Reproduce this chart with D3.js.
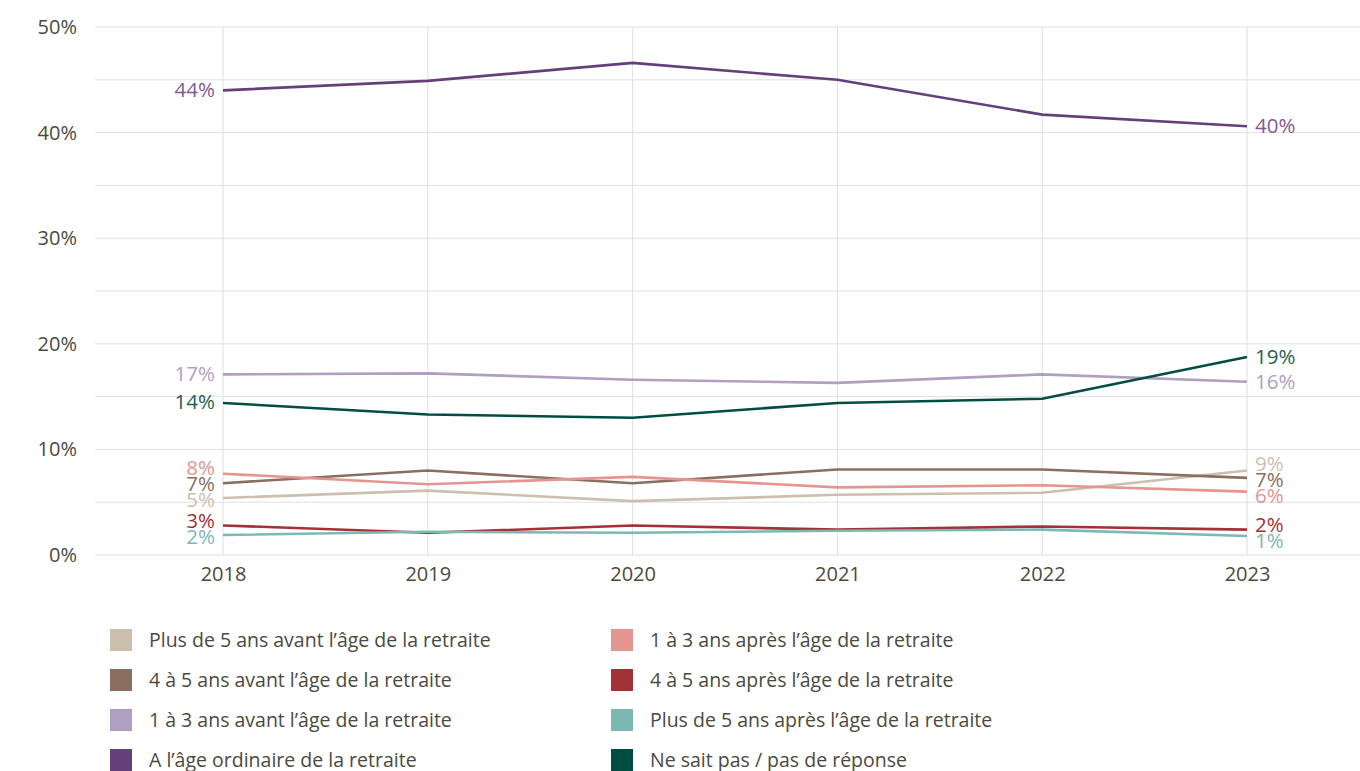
<!DOCTYPE html>
<html>
<head>
<meta charset="utf-8">
<script src="https://cdn.jsdelivr.net/npm/d3@7"></script>
<style>
  body { margin: 0; background: #fff; }
  text { font-family: "Open Sans", "Noto Sans", sans-serif; }
</style>
</head>
<body>
<script>
'use strict';

// chart data
const years = [2018, 2019, 2020, 2021, 2022, 2023];
const seriesNames = [
  "Plus de 5 ans avant l’âge de la retraite",
  "4 à 5 ans avant l’âge de la retraite",
  "1 à 3 ans avant l’âge de la retraite",
  "A l’âge ordinaire de la retraite",
  "1 à 3 ans après l’âge de la retraite",
  "4 à 5 ans après l’âge de la retraite",
  "Plus de 5 ans après l’âge de la retraite",
  "Ne sait pas / pas de réponse"
];
const seriesColors = ["#cdbfae", "#8a6f60", "#b09fc0", "#643f7a", "#e5958f", "#a33237", "#7cb9b4", "#004d44"];
const plus5Avant = [5.4, 6.1, 5.1, 5.7, 5.9, 8.0];
const avant45 = [6.8, 8.0, 6.8, 8.1, 8.1, 7.3];
const avant13 = [17.1, 17.2, 16.6, 16.3, 17.1, 16.4];
const ageOrdinaire = [44.0, 44.9, 46.6, 45.0, 41.7, 40.6];
const apres13 = [7.7, 6.7, 7.4, 6.4, 6.6, 6.0];
const apres45 = [2.8, 2.1, 2.8, 2.4, 2.7, 2.4];
const plus5Apres = [1.9, 2.2, 2.1, 2.3, 2.4, 1.8];
const neSaitPas = [14.4, 13.3, 13.0, 14.4, 14.8, 18.75];
const seriesValues = [plus5Avant, avant45, avant13, ageOrdinaire, apres13, apres45, plus5Apres, neSaitPas];
// end labels as printed in the chart
const firstLabels = ["5%", "7%", "17%", "44%", "8%", "3%", "2%", "14%"];
const lastLabels = ["9%", "7%", "16%", "40%", "6%", "2%", "1%", "19%"];
const yTicks = [0, 10, 20, 30, 40, 50];
const yGrid = [0, 5, 10, 15, 20, 25, 30, 35, 40, 45, 50];

const width = 1360, height = 771;
const textColor = "#4a4a40";

const svg = d3.select("body").append("svg")
  .attr("width", width)
  .attr("height", height);

const x = d3.scalePoint().domain(years).range([223, 1247]);
const y = d3.scaleLinear().domain([0, 50]).range([555, 27]);
const plotLeft = 95, plotRight = 1360;

// gridlines
svg.append("g").selectAll("line")
  .data(yGrid)
  .join("line")
  .attr("x1", plotLeft).attr("x2", plotRight)
  .attr("y1", d => y(d)).attr("y2", d => y(d))
  .attr("stroke", "#e0e0e0").attr("stroke-width", 1);

svg.append("g").selectAll("line")
  .data(years)
  .join("line")
  .attr("x1", d => x(d)).attr("x2", d => x(d))
  .attr("y1", y(50)).attr("y2", y(0))
  .attr("stroke", "#e0e0e0").attr("stroke-width", 1);

// y axis labels
const yAxis = d3.axisLeft(y).tickValues(yTicks).tickFormat(d => d + "%").tickSize(0).tickPadding(0);
const gy = svg.append("g").attr("transform", "translate(77,0)").call(yAxis);
gy.select(".domain").remove();
gy.selectAll("text").attr("font-size", 20).attr("fill", textColor)
  .style("font-family", "'Open Sans', sans-serif");

// x axis labels
const xAxis = d3.axisBottom(x).tickSize(0).tickPadding(0);
const gx = svg.append("g").attr("transform", "translate(0,567)").call(xAxis);
gx.select(".domain").remove();
gx.selectAll("text").attr("font-size", 20).attr("fill", textColor).attr("dy", "0.71em")
  .style("font-family", "'Open Sans', sans-serif");

// lines
const line = d3.line().x((d, i) => x(years[i])).y(d => y(d));
svg.append("g").selectAll("path")
  .data(seriesValues)
  .join("path")
  .attr("d", d => line(d))
  .attr("fill", "none")
  .attr("stroke", (d, i) => seriesColors[i])
  .attr("stroke-width", 2.6);

// spread labels so they sit apart like the original
function spreadLabels(items, gap) {
  items.sort((a, b) => a.y - b.y);
  for (let iter = 0; iter < 50; iter++) {
    let moved = false;
    for (let i = 1; i < items.length; i++) {
      const diff = items[i].y - items[i - 1].y;
      if (diff < gap) {
        const shift = (gap - diff) / 2;
        items[i].y += shift;
        items[i - 1].y -= shift;
        moved = true;
      }
    }
    if (!moved) break;
  }
  return items;
}

const leftItems = spreadLabels(seriesValues.map((v, i) => ({ i: i, y: y(v[0]), text: firstLabels[i] })), 16);
const rightItems = spreadLabels(seriesValues.map((v, i) => ({ i: i, y: y(v[v.length - 1]), text: lastLabels[i] })), 16);

function labelColor(i) {
  if (i === 3) return "#7d5c91";
  if (i === 7) return "#1f5f55";
  return seriesColors[i];
}

svg.append("g").selectAll("text")
  .data(leftItems)
  .join("text")
  .attr("x", x(years[0]) - 8)
  .attr("y", d => d.y - 1)
  .attr("dy", "0.35em")
  .attr("text-anchor", "end")
  .attr("font-size", 20.5)
  .attr("fill", d => labelColor(d.i))
  .text(d => d.text);

svg.append("g").selectAll("text")
  .data(rightItems)
  .join("text")
  .attr("x", x(years[years.length - 1]) + 8)
  .attr("y", d => d.y)
  .attr("dy", "0.35em")
  .attr("text-anchor", "start")
  .attr("font-size", 20.5)
  .attr("fill", d => labelColor(d.i))
  .text(d => d.text);

// legend, two columns of four
const legend = svg.append("g");
seriesNames.forEach((name, i) => {
  const col = Math.floor(i / 4), row = i % 4;
  const g = legend.append("g").attr("transform", `translate(${110 + col * 501},${640 + row * 40})`);
  g.append("rect").attr("x", 0).attr("y", -11).attr("width", 22).attr("height", 22).attr("fill", seriesColors[i]);
  g.append("text").attr("x", 39).attr("y", 0).attr("dy", "0.35em")
    .attr("font-size", 19.5).attr("fill", textColor).text(name);
});
</script>
</body>
</html>
